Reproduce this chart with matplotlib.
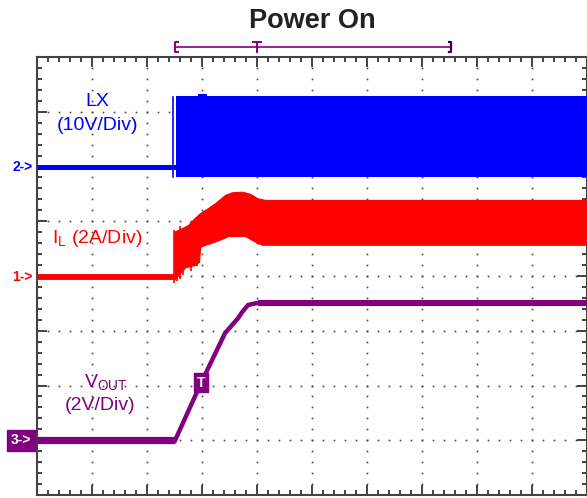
import numpy as np
import matplotlib
matplotlib.use('Agg')
import matplotlib.pyplot as plt
from matplotlib.ticker import MultipleLocator

plt.rcParams['font.family'] = ['Liberation Sans', 'DejaVu Sans']

BLUE = '#0000ff'
RED = '#ff0000'
PURPLE = '#800080'

# ── Traces, in scope divisions (x: 0..10, y: 0..8) ───────────────────────────
# LX (ch2): flat before switch-on, then switching envelope
lx_level = 6.0
lx_on = 2.54
lx_t = [2.54, 2.93, 2.93, 3.09, 3.09, 10.0]
lx_hi = [7.29, 7.29, 7.32, 7.32, 7.29, 7.29]
lx_lo = [5.80, 5.80, 5.80, 5.80, 5.80, 5.80]

# IL (ch1): ripple envelope
il_level = 3.98
il_t_hi = [2.50, 2.61, 2.75, 2.87, 2.97, 3.11, 3.24, 3.42, 3.55, 3.73, 3.88, 4.01, 4.15, 10.0]
il_hi = [4.81, 4.86, 4.93, 5.06, 5.15, 5.24, 5.33, 5.48, 5.53, 5.54, 5.50, 5.42, 5.39, 5.39]
il_t_lo = [2.50, 2.70, 2.87, 2.95, 2.97, 3.06, 3.24, 3.37, 3.48, 3.79, 3.91, 4.02, 4.10, 10.0]
il_lo = [3.93, 4.16, 4.20, 4.26, 4.53, 4.57, 4.63, 4.68, 4.73, 4.73, 4.66, 4.60, 4.57, 4.57]
# ragged spikes at the start of switching
il_spike_t = [2.50, 2.55, 2.61, 2.66, 2.80, 2.92]
il_spike_lo = [3.88, 3.90, 3.95, 4.02, 4.10, 4.18]
il_spike_hi = [4.84, 4.80, 4.92, 4.85, 4.98, 5.08]

# VOUT (ch3)
vout_t = [0.0, 2.515, 2.987, 3.424, 3.66, 3.733, 3.84, 4.02, 10.0]
vout_v = [1.0, 1.0, 2.046, 2.959, 3.23, 3.34, 3.47, 3.51, 3.51]
vout_trig = (2.987, 2.046)

# ── Figure ───────────────────────────────────────────────────────────────────
W, H = 587, 498
fig = plt.figure(figsize=(W / 100, H / 100), dpi=100)
left, top, bottom = 36.7, 57, 495
ax = fig.add_axes([left / W, (H - bottom) / H, (W - left) / W, (bottom - top) / H])
ax.set_xlim(0, 10)
ax.set_ylim(0, 8)

for sp in ax.spines.values():
    sp.set_color('#444444')
    sp.set_linewidth(1.5)
ax.xaxis.set_major_locator(MultipleLocator(1))
ax.xaxis.set_minor_locator(MultipleLocator(0.2))
ax.yaxis.set_major_locator(MultipleLocator(1))
ax.yaxis.set_minor_locator(MultipleLocator(0.2))
ax.tick_params(which='both', direction='in', top=True, right=True,
               labelbottom=False, labelleft=False, color='#333333', width=1.3)
ax.tick_params(which='major', length=7.5)
ax.tick_params(which='minor', length=3.5)

# graticule dots
gx = np.arange(1, 10)
gy = np.arange(0.2, 8.0, 0.2)
for x in gx:
    ax.plot(np.full(len(gy), x), gy, ls='none', marker='s', ms=1.2,
            color='#444444', mew=0, zorder=1)
gx2 = np.arange(0.2, 10.0, 0.2)
for y in range(1, 8):
    ax.plot(gx2, np.full(len(gx2), y), ls='none', marker='s', ms=1.2,
            color='#444444', mew=0, zorder=1)

# LX
ax.plot([0, lx_on], [lx_level, lx_level], color=BLUE, lw=3.6, solid_capstyle='butt', zorder=3)
ax.plot([2.48, 2.48], [5.80, 7.27], color=BLUE, lw=1.2, zorder=3)
ax.fill_between(lx_t, lx_lo, lx_hi, color=BLUE, lw=0, zorder=3)

# IL
ax.plot([0, 2.50], [il_level, il_level], color=RED, lw=4.2, solid_capstyle='butt', zorder=3)
t_env = np.union1d(il_t_hi, il_t_lo)
ax.fill_between(t_env, np.interp(t_env, il_t_lo, il_lo), np.interp(t_env, il_t_hi, il_hi),
                color=RED, lw=0.8, edgecolor=RED, zorder=3)
ax.vlines(il_spike_t, il_spike_lo, il_spike_hi, color=RED, lw=1.2, zorder=3)

# VOUT
ax.plot(vout_t[1:], vout_v[1:], color=PURPLE, lw=3.2, solid_joinstyle='round', zorder=4)
ax.plot(vout_t[-2:], vout_v[-2:], color=PURPLE, lw=4.4, solid_capstyle='butt', zorder=4)
ax.plot(vout_t[:2], vout_v[:2], color=PURPLE, lw=5.2, solid_capstyle='butt', zorder=4)
ax.text(vout_trig[0], vout_trig[1], 'T', color='white', fontsize=10, fontweight='bold',
        ha='center', va='center', zorder=6,
        bbox=dict(boxstyle='square,pad=0.18', fc=PURPLE, ec=PURPLE))

# channel labels
ax.text(1.10, 7.18, 'LX', color=BLUE, fontsize=14, ha='center', va='center')
ax.text(1.10, 6.74, '(10V/Div)', color=BLUE, fontsize=14, ha='center', va='center')
ax.text(1.10, 4.69, 'I$_\\mathregular{L}$ (2A/Div)', color=RED, fontsize=14,
        ha='center', va='center')
ax.text(1.26, 2.05, 'V$_\\mathregular{OUT}$', color=PURPLE, fontsize=14,
        ha='center', va='center')
ax.text(1.15, 1.63, '(2V/Div)', color=PURPLE, fontsize=14, ha='center', va='center')

# channel ground markers
ax.text(-0.07, lx_level, '2->', color=BLUE, fontsize=10, fontweight='bold',
        ha='right', va='center', clip_on=False)
ax.text(-0.07, il_level, '1->', color=RED, fontsize=10, fontweight='bold',
        ha='right', va='center', clip_on=False)
ax.text(-0.10, 1.0, '3->', color='white', fontsize=10, fontweight='bold',
        ha='right', va='center', clip_on=False,
        bbox=dict(boxstyle='square,pad=0.25', fc=PURPLE, ec=PURPLE))

# trigger / record bar above the graticule
ybar, y0, y1 = 8.18, 8.09, 8.27
ax.plot([2.515, 7.53], [ybar, ybar], color=PURPLE, lw=1.2, clip_on=False)
ax.plot([2.56, 2.515, 2.515, 2.56], [y1, y1, y0, y0], color=PURPLE, lw=1.4, clip_on=False)
ax.plot([4.0, 4.0], [y0, y1], color=PURPLE, lw=1.4, clip_on=False)
ax.plot([3.93, 4.07], [y1, y1], color=PURPLE, lw=1.4, clip_on=False)
ax.plot([7.485, 7.53, 7.53, 7.485], [y1, y1, y0, y0], color='#400040', lw=1.6, clip_on=False)

fig.text(312 / W, 1 - 21 / H, 'Power On', fontsize=19.5, fontweight='bold',
         ha='center', va='center', color='#222222')

fig.savefig('out.png', dpi=100)
